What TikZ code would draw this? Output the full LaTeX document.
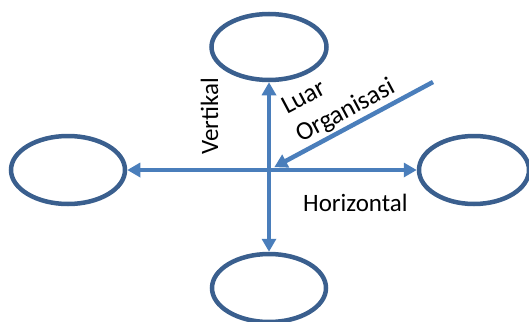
\documentclass[tikz,border=0pt]{standalone}
\usepackage{fontspec}
\setmainfont{Carlito}
\usetikzlibrary{shapes.geometric,arrows.meta}
\definecolor{arrowblue}{HTML}{4A7EBB}
\definecolor{ringblue}{HTML}{3A5F8E}
\begin{document}
\begin{tikzpicture}[x=1pt,y=-1pt,
  ring/.style={ellipse,draw=ringblue,line width=4.5pt,inner sep=0pt},
  flow/.style={draw=arrowblue,line width=4.5pt,-{Triangle[length=13pt,width=14pt]}},
  lbl/.style={font=\fontsize{25}{30}\selectfont,inner sep=0pt,text=black},
  slant/.style={lbl,font=\fontsize{26}{31}\selectfont,anchor=base west,rotate=28}]
  \useasboundingbox (0,0) rectangle (529,321);
  % the four target ellipses
  \node[ring,minimum width=115pt,minimum height=66pt] (top) at (269,47) {};
  \node[ring,minimum width=114pt,minimum height=68pt] (left) at (68,170) {};
  \node[ring,minimum width=110pt,minimum height=68pt] (right) at (474,170) {};
  \node[ring,minimum width=114pt,minimum height=68pt] (bottom) at (269,288) {};
  % crossing point and outside source
  \coordinate (c) at (269,170);
  \coordinate (outside) at (433,82);
  % arrows
  \draw[flow] (c) -- (top);
  \draw[flow] (c) -- (bottom);
  \draw[flow] (c) -- (left);
  \draw[flow] (c) -- (right);
  \draw[flow,shorten >=6pt] (outside) -- (c);
  % labels
  \node[lbl,anchor=base west] (hlbl) at (303,211) {Horizontal};
  \node[lbl,anchor=base west,rotate=90] (vlbl) at (218,155) {Vertikal};
  \node[slant] (luar) at (287,115) {Luar};
  \node[slant] (org) at (301,143) {Organisasi};
\end{tikzpicture}
\end{document}
